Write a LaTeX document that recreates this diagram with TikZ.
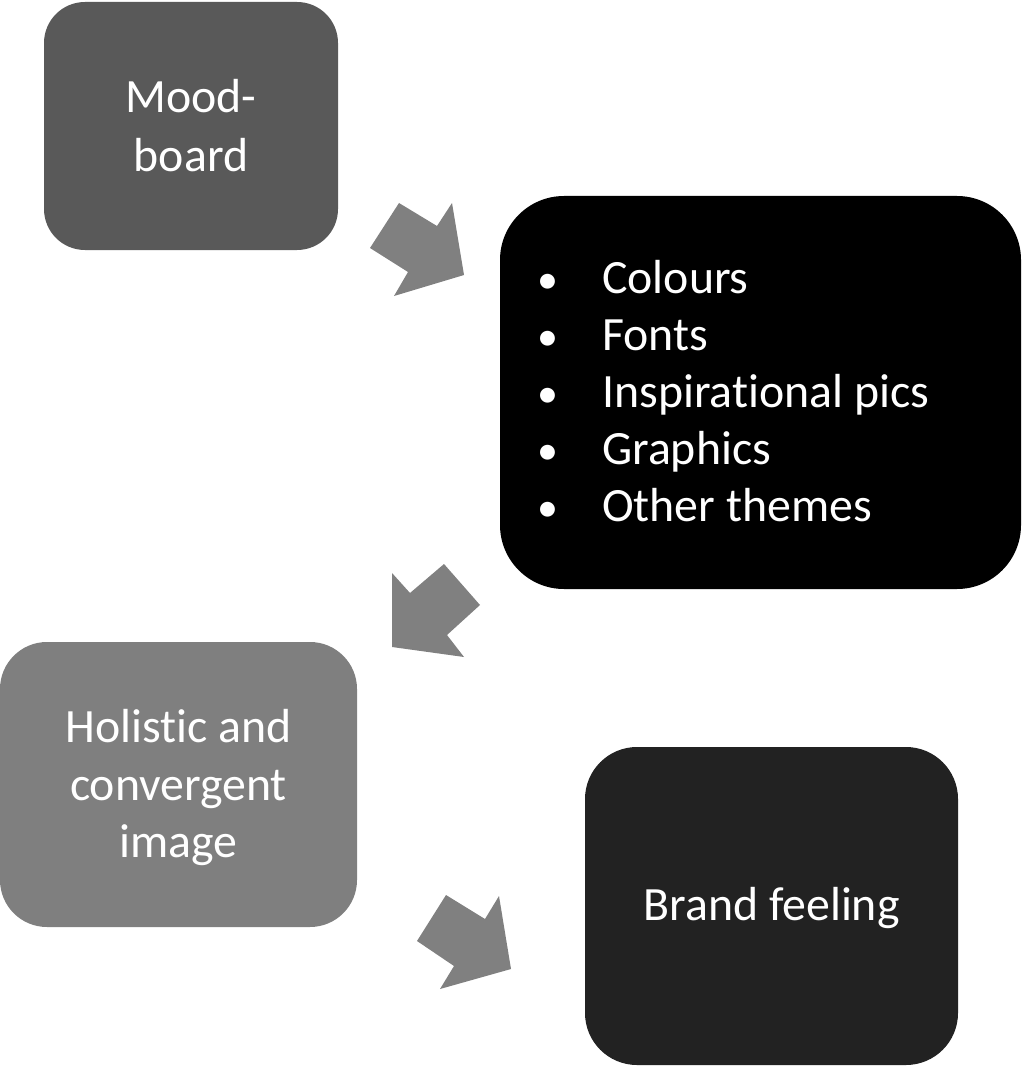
\documentclass[tikz,border=0pt]{standalone}
\usepackage{fontspec}
\setmainfont{Carlito}[RawFeature={-liga;-clig;-dlig;-calt}]
\definecolor{moodgray}{HTML}{595959}
\definecolor{holigray}{HTML}{7F7F7F}
\definecolor{brandgray}{HTML}{222222}
\definecolor{arrowgray}{HTML}{808080}
\newcommand\myti{t\kern0pt i}
\tikzset{
  boxnode/.style={rectangle, draw=none, inner sep=0pt, outer sep=0pt},
  txt/.style={text=white, inner sep=0pt, font=\fontsize{47.8}{57.5}\selectfont},
  bullet/.style={text=white, inner sep=0pt, font=\fontsize{42}{57.5}\selectfont},
  blockarrow/.style={fill=arrowgray, draw=none},
}
\begin{document}
\begin{tikzpicture}[x=1pt,y=-1pt]
\useasboundingbox (0,0) rectangle (1025,1067);
% boxes
\node[boxnode, fill=moodgray, minimum width=294pt, minimum height=248pt, rounded corners=41pt] (mood) at (191,126) {};
\node[boxnode, fill=black, minimum width=521pt, minimum height=393pt, rounded corners=64pt] (list) at (760.5,392.5) {};
\node[boxnode, fill=holigray, minimum width=357pt, minimum height=285pt, rounded corners=47pt] (holi) at (178.5,784.5) {};
\node[boxnode, fill=brandgray, minimum width=373pt, minimum height=318pt, rounded corners=52pt] (brand) at (771.5,906) {};
% texts
\node[txt, anchor=base] (m1) at (191,113) {Mood-};
\node[txt, anchor=base] (m2) at (191,172) {board};
\node[bullet, anchor=base] (b1) at (548,293) {•};
\node[txt, anchor=base west] (l1) at (602,293) {Colours};
\node[bullet, anchor=base] (b2) at (548,350) {•};
\node[txt, anchor=base west] (l2) at (602,350) {Fonts};
\node[bullet, anchor=base] (b3) at (548,407) {•};
\node[txt, anchor=base west] (l3) at (602,407) {Inspira\myti onal pics};
\node[bullet, anchor=base] (b4) at (548,464) {•};
\node[txt, anchor=base west] (l4) at (602,464) {Graphics};
\node[bullet, anchor=base] (b5) at (548,521) {•};
\node[txt, anchor=base west] (l5) at (602,521) {Other themes};
\node[txt, anchor=base] (h1) at (178.5,742) {Holis\myti c and};
\node[txt, anchor=base] (h2) at (178.5,800) {convergent};
\node[txt, anchor=base] (h3) at (178.5,857) {image};
\node[txt, anchor=base] (bf) at (771.5,920) {Brand feeling};
% block arrows
\fill[blockarrow] (399,203) -- (437,226) -- (452,203) -- (464,275) -- (394,296) -- (408,272) -- (370,248) -- cycle;
\fill[blockarrow] (444,564) -- (480,605) -- (447,635) -- (464,657) -- (392,647) -- (392,573) -- (410,593) -- cycle;
\fill[blockarrow] (446,895) -- (485,919) -- (499,896) -- (511,969) -- (440,989) -- (454,966) -- (417,941) -- cycle;
\end{tikzpicture}
\end{document}
